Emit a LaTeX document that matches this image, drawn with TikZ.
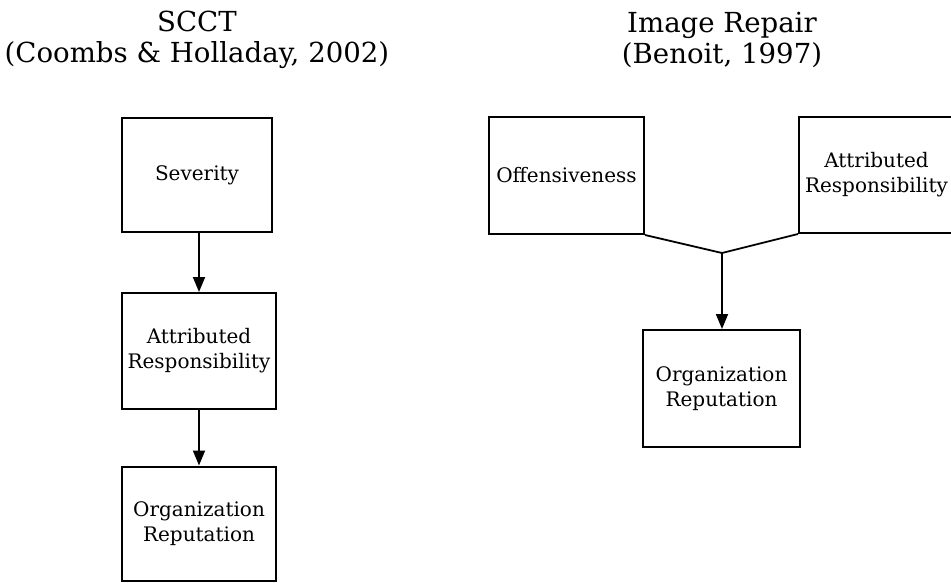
\documentclass[tikz,border=0pt]{standalone}
\usepackage{fontspec}
\setmainfont{DejaVu Serif}
\usetikzlibrary{arrows.meta}
\begin{document}
\begin{tikzpicture}[x=1pt,y=-1pt,
  box/.style={draw, line width=2pt, inner sep=0pt, align=center,
    font=\fontsize{20}{25}\selectfont},
  title/.style={align=center, font=\fontsize{27.6}{30.5}\selectfont},
  flow/.style={line width=1.8pt, -{Triangle[length=15pt,width=12pt]}},
  merge/.style={line width=1.8pt}]
\useasboundingbox (0,0) rectangle (951,582);

% SCCT chain
\node[title] (t1) at (197,40) {SCCT\\(Coombs \& Holladay, 2002)};
\node[box, minimum width=150pt, minimum height=114pt] (sev) at (197,175) {Severity};
\node[box, minimum width=154pt, minimum height=116pt] (ar1) at (199,351) {Attributed\\Responsibility};
\node[box, minimum width=154pt, minimum height=114pt] (or1) at (199,523.5) {Organization\\Reputation};
\draw[flow] (sev.south -| ar1.north) -- (ar1.north);
\draw[flow] (ar1.south) -- (or1.north);

% Image repair model
\node[title] (t2) at (722,40) {Image Repair\\(Benoit, 1997)};
\node[box, minimum width=155pt, minimum height=117pt] (off) at (566.5,175.5) {Offensiveness};
\node[box, minimum width=155pt, minimum height=116pt] (ar2) at (876.5,175) {Attributed\\Responsibility};
\node[box, minimum width=157pt, minimum height=117pt] (or2) at (721.5,388.5) {Organization\\Reputation};
\coordinate (j) at (722,253);
\draw[merge] (off.south east) -- (j) -- (ar2.south west);
\draw[flow] (j) -- (or2.north -| j);
\end{tikzpicture}
\end{document}
